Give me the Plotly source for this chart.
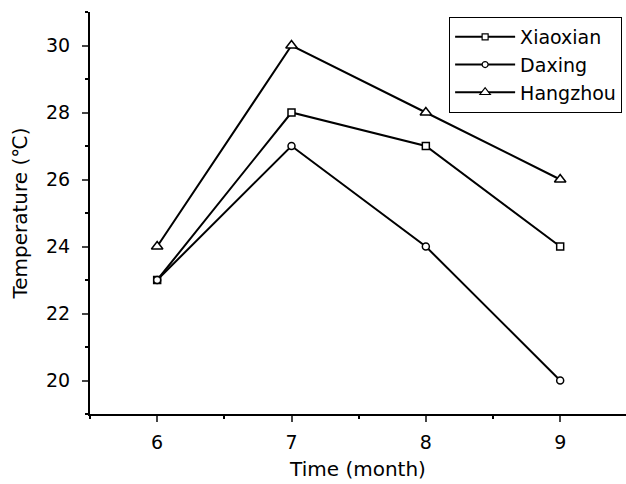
import plotly.graph_objects as go

months = [6, 7, 8, 9]
xiaoxian = [23, 28, 27, 24]
daxing = [23, 27, 24, 20]
hangzhou = [24, 30, 28, 26]

fig = go.Figure()
series = [("Xiaoxian", xiaoxian, "square", 7, 6),
          ("Daxing", daxing, "circle", 7, 6),
          ("Hangzhou", hangzhou, "triangle-up", 10, 9)]
for name, vals, sym, sz, lsz in series:
    fig.add_trace(go.Scatter(
        x=months, y=vals, name=name, mode="lines+markers", showlegend=False,
        line=dict(color="black", width=2),
        marker=dict(symbol=sym, size=sz, color="white", line=dict(width=1.5, color="black")),
    ))
    # legend-only entry with smaller symbol
    fig.add_trace(go.Scatter(
        x=[None], y=[None], name=name, mode="lines+markers",
        line=dict(color="black", width=2),
        marker=dict(symbol=sym, size=lsz, color="white", line=dict(width=1.2, color="black")),
    ))

font = "DejaVu Sans, sans-serif"
fig.update_layout(
    width=626, height=484,
    margin=dict(l=90, r=0, t=12, b=70),
    paper_bgcolor="white", plot_bgcolor="white",
    font=dict(family=font, color="black", size=19),
    showlegend=True,
    legend=dict(x=0.67, y=0.9876, xanchor="left", yanchor="top",
                bordercolor="black", borderwidth=1, bgcolor="white",
                font=dict(size=19), tracegroupgap=0, itemwidth=60),
    xaxis=dict(range=[5.5, 9.49], tickvals=months, ticks="outside", ticklen=6, tickwidth=2,
               showline=True, linewidth=2, linecolor="black", showgrid=False, zeroline=False,
               minor=dict(ticks="outside", ticklen=3, tickwidth=2, dtick=0.5, tick0=5.5, tickcolor="black"),
               title=dict(text="Time (month)", font=dict(size=20), standoff=10),
               tickfont=dict(size=19), ticklabelstandoff=4),
    yaxis=dict(range=[19, 31], dtick=2, tick0=20, ticks="outside", ticklen=6, tickwidth=2,
               showline=True, linewidth=2, linecolor="black", showgrid=False, zeroline=False,
               minor=dict(ticks="outside", ticklen=3, tickwidth=2, dtick=1, tick0=19, tickcolor="black"),
               title=dict(text="Temperature (℃)", font=dict(size=20), standoff=13),
               tickfont=dict(size=19), ticklabelstandoff=8),
)
fig.write_html("out.html", config={"displayModeBar": False},
               post_script="document.body.style.margin='0';document.body.style.overflow='hidden';")
